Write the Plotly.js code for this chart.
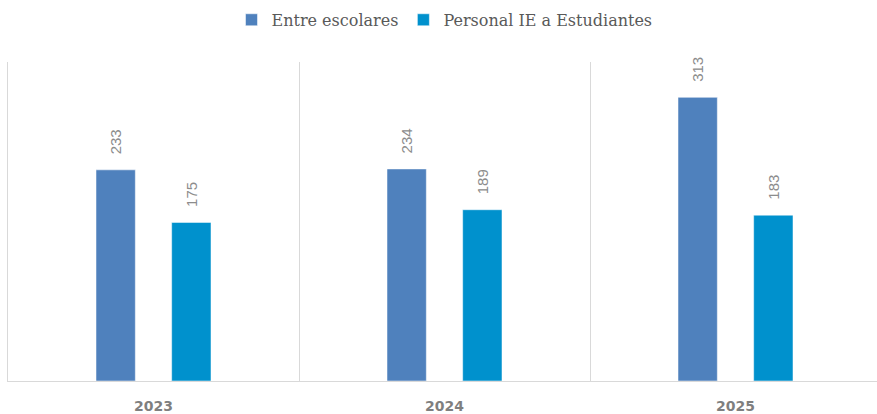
<!DOCTYPE html>
<html><head><meta charset="utf-8">
<script src="https://cdn.plot.ly/plotly-3.0.1.min.js"></script>
<style>html,body{margin:0;padding:0;overflow:hidden;background:#fff}#chart{width:881px;height:414px}</style>
</head><body><div id="chart"></div>
<script>
const categories = ['2023', '2024', '2025'];
const seriesNames = ['Entre escolares', 'Personal IE a Estudiantes'];
const entreEscolares = [233, 234, 313];
const personalIE = [175, 189, 183];
const colors = ['#4f81bd', '#0091cd'];

const labelFont = {family: 'Liberation Sans, Arial, sans-serif', size: 15, color: '#8c8c8c'};
const pad = '\u00a0\u00a0\u00a0';
function mk(name, vals, color) {
  return {
    type: 'bar', name: name, x: categories, y: vals,
    marker: {color: color, line: {color: 'rgba(255,255,255,0.5)', width: 1}},
    text: vals.map(v => pad + String(v)), textposition: 'outside', textangle: -90,
    textfont: labelFont, cliponaxis: false, hoverinfo: 'skip'
  };
}
const data = [mk(seriesNames[0], entreEscolares, colors[0]), mk(seriesNames[1], personalIE, colors[1])];
const layout = {
  width: 881, height: 414,
  margin: {l: 8, r: 0, t: 62, b: 33},
  barmode: 'group', bargap: 0.48, bargroupgap: 0.48,
  paper_bgcolor: '#fff', plot_bgcolor: '#fff',
  showlegend: true,
  legend: {orientation: 'h', x: 0.5, xanchor: 'center', y: 0.952, yanchor: 'middle', yref: 'container',
    font: {family: 'DejaVu Serif, serif', size: 16, color: '#595959'}, itemwidth: 30, traceorder: 'normal'},
  xaxis: {type: 'category', range: [-0.5, 2.5], tickson: 'boundaries', showgrid: true, gridcolor: '#d9d9d9', gridwidth: 1,
    ticks: '', showline: true, linecolor: '#d9d9d9', linewidth: 1, ticklabelstandoff: 12,
    tickfont: {family: 'DejaVu Sans, sans-serif', size: 14, color: '#7f7f7f', weight: 'bold'}},
  yaxis: {range: [0, 352], showgrid: false, zeroline: false, showticklabels: false, ticks: '', showline: true, linecolor: '#d9d9d9', linewidth: 1}
};
Plotly.newPlot('chart', data, layout, {displayModeBar: false, staticPlot: true});
</script></body></html>
